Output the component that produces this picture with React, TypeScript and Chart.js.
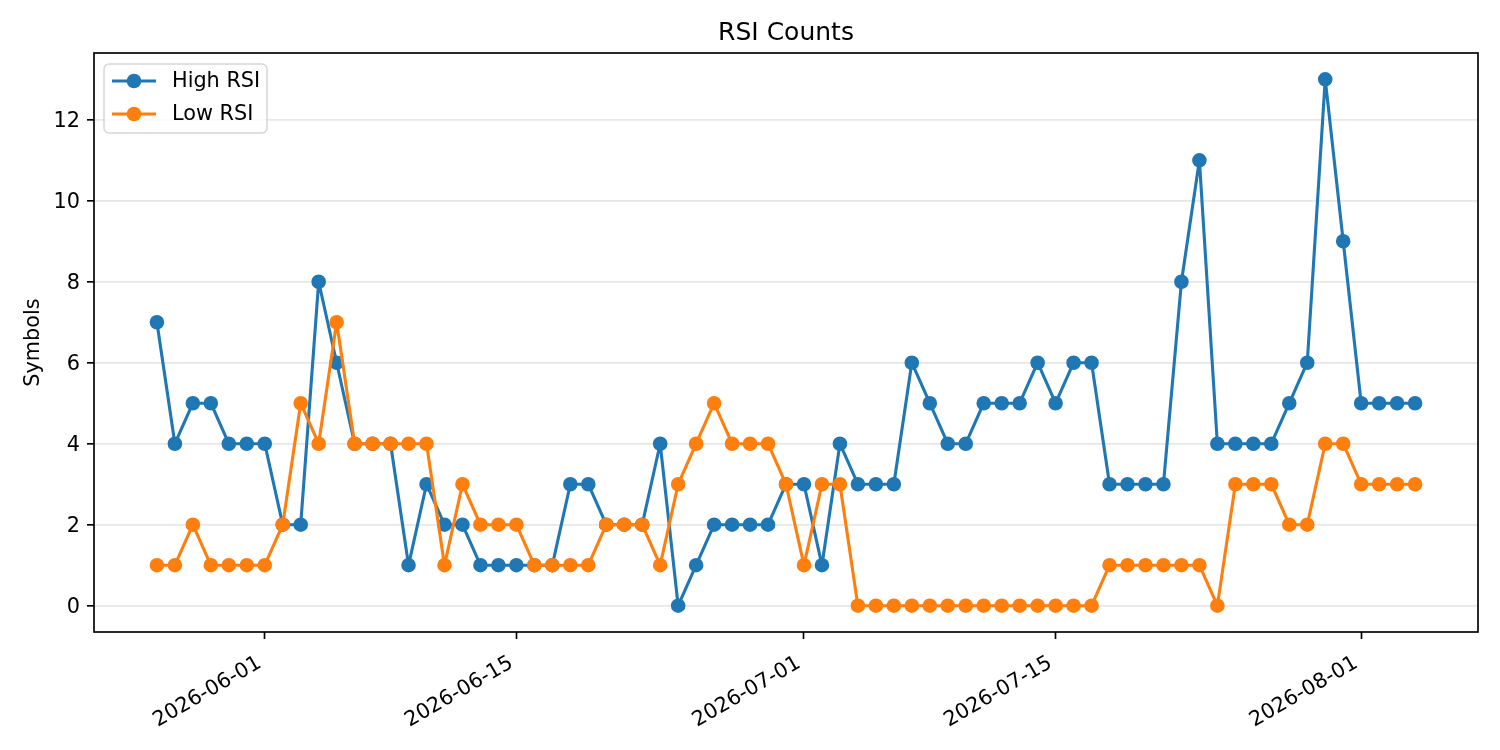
import { useEffect, useRef } from 'react'
import { Chart, registerables } from 'chart.js'

Chart.register(...registerables)

// Dados do gráfico
const START_DATE = '2026-05-26'
const HIGH_RSI = [
  7, 4, 5, 5, 4, 4, 4, 2, 2, 8, 6, 4, 4, 4, 1, 3, 2, 2, 1, 1, 1, 1, 1, 3, 3, 2, 2, 2, 4, 0, 1, 2, 2, 2, 2, 3,
  3, 1, 4, 3, 3, 3, 6, 5, 4, 4, 5, 5, 5, 6, 5, 6, 6, 3, 3, 3, 3, 8, 11, 4, 4, 4, 4, 5, 6, 13, 9, 5, 5, 5, 5,
]
const LOW_RSI = [
  1, 1, 2, 1, 1, 1, 1, 2, 5, 4, 7, 4, 4, 4, 4, 4, 1, 3, 2, 2, 2, 1, 1, 1, 1, 2, 2, 2, 1, 3, 4, 5, 4, 4, 4, 3,
  1, 3, 3, 0, 0, 0, 0, 0, 0, 0, 0, 0, 0, 0, 0, 0, 0, 1, 1, 1, 1, 1, 1, 0, 3, 3, 3, 2, 2, 4, 4, 3, 3, 3, 3,
]
const X_TICK_LABELS = ['2026-06-01', '2026-06-15', '2026-07-01', '2026-07-15', '2026-08-01']
const Y_TICKS = [0, 2, 4, 6, 8, 10, 12]

const TITLE = 'RSI Counts'
const Y_LABEL = 'Symbols'
const SERIES_NAMES = ['High RSI', 'Low RSI']
const COLORS = ['#1f77b4', '#ff7f0e']

const DAY = 86400000
const ORIGIN = Date.parse('2026-06-01T00:00:00Z')
const toDay = (iso: string) => Math.round((Date.parse(iso + 'T00:00:00Z') - ORIGIN) / DAY)
const startDay = toDay(START_DATE)
const days = HIGH_RSI.map((_, i) => startDay + i)
const tickDays = X_TICK_LABELS.map(toDay)

const FONT = '"DejaVu Sans", sans-serif'

const decorations = {
  id: 'decorations',
  afterDraw(chart: Chart) {
    const { ctx, chartArea: a } = chart
    ctx.save()

    // moldura (spines)
    ctx.strokeStyle = '#000'
    ctx.lineWidth = 1.67
    ctx.strokeRect(a.left, a.top, a.right - a.left, a.bottom - a.top)

    // título
    ctx.fillStyle = '#000'
    ctx.font = `25px ${FONT}`
    ctx.textAlign = 'center'
    ctx.textBaseline = 'middle'
    ctx.fillText(TITLE, (a.left + a.right) / 2, 33)

    // rótulo do eixo y
    ctx.font = `20.8px ${FONT}`
    ctx.translate(34, (a.top + a.bottom) / 2)
    ctx.rotate(-Math.PI / 2)
    ctx.fillText(Y_LABEL, 0, 0)
    ctx.setTransform(1, 0, 0, 1, 0, 0)
    ctx.restore()

    // legenda
    ctx.save()
    const lx = 104, ly = 64, lw = 163, lh = 69
    ctx.beginPath()
    ctx.roundRect(lx, ly, lw, lh, 5)
    ctx.fillStyle = 'rgba(255,255,255,0.8)'
    ctx.fill()
    ctx.strokeStyle = 'rgba(204,204,204,0.8)'
    ctx.lineWidth = 1.5
    ctx.stroke()
    ctx.font = `20.8px ${FONT}`
    ctx.textAlign = 'left'
    ctx.textBaseline = 'middle'
    SERIES_NAMES.forEach((name, i) => {
      const y = 81 + i * 33
      ctx.strokeStyle = COLORS[i]
      ctx.lineWidth = 3.1
      ctx.beginPath()
      ctx.moveTo(112, y)
      ctx.lineTo(156, y)
      ctx.stroke()
      ctx.fillStyle = COLORS[i]
      ctx.beginPath()
      ctx.arc(134, y, 7.3, 0, Math.PI * 2)
      ctx.fill()
      ctx.fillStyle = '#000'
      ctx.fillText(name, 172, y + 1)
    })
    ctx.restore()
  },
}

export default function App() {
  const canvasRef = useRef<HTMLCanvasElement>(null)
  const chartRef = useRef<Chart | null>(null)

  useEffect(() => {
    document.body.style.margin = '0'
    if (!canvasRef.current) return
    const ctx = canvasRef.current.getContext('2d')
    if (!ctx) return

    const makeDataset = (values: number[], i: number, order: number) => ({
      label: SERIES_NAMES[i],
      data: values.map((v, k) => ({ x: days[k], y: v })),
      borderColor: COLORS[i],
      backgroundColor: COLORS[i],
      pointBackgroundColor: COLORS[i],
      pointBorderColor: COLORS[i],
      borderWidth: 3.1,
      borderJoinStyle: 'round' as const,
      pointRadius: 6.25,
      pointBorderWidth: 2.1,
      pointHoverRadius: 6.25,
      tension: 0,
      order,
      clip: false as const,
    })

    chartRef.current = new Chart(ctx, {
      type: 'line',
      data: {
        datasets: [makeDataset(HIGH_RSI, 0, 2), makeDataset(LOW_RSI, 1, 1)],
      },
      plugins: [decorations],
      options: {
        responsive: false,
        animation: false,
        layout: { padding: { top: 53, right: 22, left: 0, bottom: 0 } },
        plugins: {
          legend: { display: false },
          title: { display: false },
          tooltip: { enabled: false },
        },
        scales: {
          x: {
            type: 'linear',
            min: days[0] - 3.5,
            max: days[days.length - 1] + 3.5,
            afterFit: (scale: any) => {
              scale.height = 118
            },
            afterBuildTicks: (scale: any) => {
              scale.ticks = tickDays.map((v) => ({ value: v }))
            },
            border: { display: false },
            grid: {
              drawOnChartArea: false,
              drawTicks: true,
              tickLength: 7,
              tickColor: '#000',
              tickWidth: 1.67,
            },
            ticks: {
              autoSkip: false,
              minRotation: 30,
              maxRotation: 30,
              padding: 12,
              labelOffset: -5,
              color: '#000',
              font: { family: FONT, size: 20.8 },
              callback: (value: any) => {
                const idx = tickDays.indexOf(Number(value))
                return idx >= 0 ? X_TICK_LABELS[idx] : ''
              },
            },
          },
          y: {
            type: 'linear',
            min: -0.65,
            max: 13.65,
            afterFit: (scale: any) => {
              scale.width = 94
            },
            afterBuildTicks: (scale: any) => {
              scale.ticks = Y_TICKS.map((v) => ({ value: v }))
            },
            border: { display: false },
            grid: {
              color: 'rgba(176,176,176,0.3)',
              lineWidth: 1.67,
              drawTicks: true,
              tickLength: 7,
              tickColor: '#000',
              tickWidth: 1.67,
            },
            ticks: {
              padding: 7,
              labelOffset: 1.5,
              color: '#000',
              font: { family: FONT, size: 20.8 },
              callback: (value: any) => String(value),
            },
          },
        },
      },
    })

    return () => {
      if (chartRef.current) {
        chartRef.current.destroy()
        chartRef.current = null
      }
    }
  }, [])

  return (
    <div style={{ width: '1500px', height: '750px', background: '#fff' }}>
      <canvas ref={canvasRef} width={1500} height={750} />
    </div>
  )
}
